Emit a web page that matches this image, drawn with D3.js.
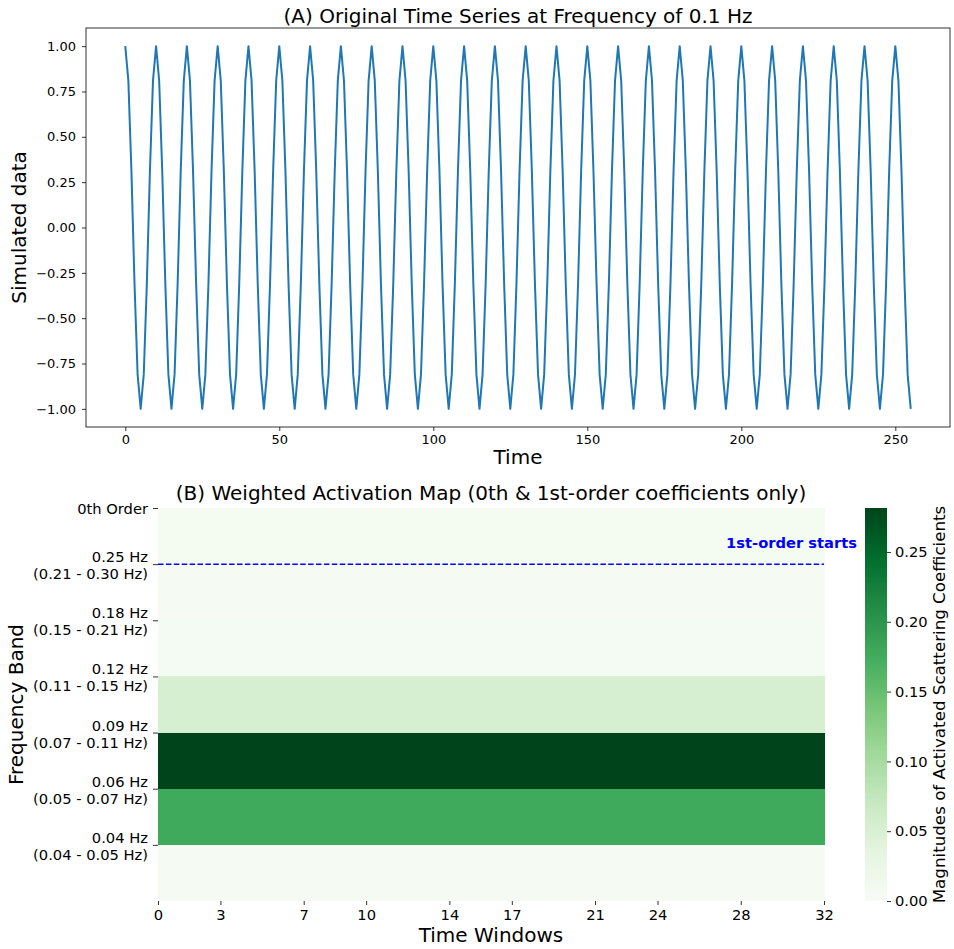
<!DOCTYPE html>
<html>
<head>
<meta charset="utf-8">
<script src="https://cdn.jsdelivr.net/npm/d3@7"></script>
<style>
  body { margin: 0; background: #fff; }
  text { font-family: "DejaVu Sans", sans-serif; fill: #000; }
</style>
</head>
<body>
<svg id="chart"></svg>
<script>
// (A) simulated signal, one value per time step (0..255)
var signal = [
  1.00, 0.81, 0.31, -0.31, -0.81, -1.00, -0.81, -0.31, 0.31, 0.81,
  1.00, 0.81, 0.31, -0.31, -0.81, -1.00, -0.81, -0.31, 0.31, 0.81,
  1.00, 0.81, 0.31, -0.31, -0.81, -1.00, -0.81, -0.31, 0.31, 0.81,
  1.00, 0.81, 0.31, -0.31, -0.81, -1.00, -0.81, -0.31, 0.31, 0.81,
  1.00, 0.81, 0.31, -0.31, -0.81, -1.00, -0.81, -0.31, 0.31, 0.81,
  1.00, 0.81, 0.31, -0.31, -0.81, -1.00, -0.81, -0.31, 0.31, 0.81,
  1.00, 0.81, 0.31, -0.31, -0.81, -1.00, -0.81, -0.31, 0.31, 0.81,
  1.00, 0.81, 0.31, -0.31, -0.81, -1.00, -0.81, -0.31, 0.31, 0.81,
  1.00, 0.81, 0.31, -0.31, -0.81, -1.00, -0.81, -0.31, 0.31, 0.81,
  1.00, 0.81, 0.31, -0.31, -0.81, -1.00, -0.81, -0.31, 0.31, 0.81,
  1.00, 0.81, 0.31, -0.31, -0.81, -1.00, -0.81, -0.31, 0.31, 0.81,
  1.00, 0.81, 0.31, -0.31, -0.81, -1.00, -0.81, -0.31, 0.31, 0.81,
  1.00, 0.81, 0.31, -0.31, -0.81, -1.00, -0.81, -0.31, 0.31, 0.81,
  1.00, 0.81, 0.31, -0.31, -0.81, -1.00, -0.81, -0.31, 0.31, 0.81,
  1.00, 0.81, 0.31, -0.31, -0.81, -1.00, -0.81, -0.31, 0.31, 0.81,
  1.00, 0.81, 0.31, -0.31, -0.81, -1.00, -0.81, -0.31, 0.31, 0.81,
  1.00, 0.81, 0.31, -0.31, -0.81, -1.00, -0.81, -0.31, 0.31, 0.81,
  1.00, 0.81, 0.31, -0.31, -0.81, -1.00, -0.81, -0.31, 0.31, 0.81,
  1.00, 0.81, 0.31, -0.31, -0.81, -1.00, -0.81, -0.31, 0.31, 0.81,
  1.00, 0.81, 0.31, -0.31, -0.81, -1.00, -0.81, -0.31, 0.31, 0.81,
  1.00, 0.81, 0.31, -0.31, -0.81, -1.00, -0.81, -0.31, 0.31, 0.81,
  1.00, 0.81, 0.31, -0.31, -0.81, -1.00, -0.81, -0.31, 0.31, 0.81,
  1.00, 0.81, 0.31, -0.31, -0.81, -1.00, -0.81, -0.31, 0.31, 0.81,
  1.00, 0.81, 0.31, -0.31, -0.81, -1.00, -0.81, -0.31, 0.31, 0.81,
  1.00, 0.81, 0.31, -0.31, -0.81, -1.00, -0.81, -0.31, 0.31, 0.81,
  1.00, 0.81, 0.31, -0.31, -0.81, -1.00
];
var timeTicks = [0, 50, 100, 150, 200, 250];
var signalTicks = [1.00, 0.75, 0.50, 0.25, 0.00, -0.25, -0.50, -0.75, -1.00];

// (B) heatmap rows (top to bottom) and their magnitude
var bandNames = ["0th Order", "0.25 Hz", "0.18 Hz", "0.12 Hz", "0.09 Hz", "0.06 Hz", "0.04 Hz"];
var bandRanges = ["", "(0.21 - 0.30 Hz)", "(0.15 - 0.21 Hz)", "(0.11 - 0.15 Hz)", "(0.07 - 0.11 Hz)", "(0.05 - 0.07 Hz)", "(0.04 - 0.05 Hz)"];
var bandValues = [0.006, 0.004, 0.005, 0.052, 0.2815, 0.178, 0.003];
var windowCount = 32;
var windowTicks = [0, 3, 7, 10, 14, 17, 21, 24, 28, 32];
var colorbarTicks = [0.00, 0.05, 0.10, 0.15, 0.20, 0.25];
var greens = ["#f7fcf5", "#e5f5e0", "#c7e9c0", "#a1d99b", "#74c476", "#41ab5d", "#238b45", "#006d2c", "#00441b"];

var W = 954, H = 949;
var svg = d3.select("#chart").attr("width", W).attr("height", H);

// ---------- top panel ----------
var pA = {left: 86, right: 950, top: 28, bottom: 427};

var x = d3.scaleLinear().domain([-12.75, 267.75]).range([pA.left, pA.right]);
var y = d3.scaleLinear().domain([-1.1, 1.1]).range([pA.bottom, pA.top]);

var gA = svg.append("g");

gA.append("path")
  .datum(signal)
  .attr("fill", "none")
  .attr("stroke", "#1f77b4")
  .attr("stroke-width", 2)
  .attr("stroke-linejoin", "round")
  .attr("d", d3.line().x((d, i) => x(i)).y(d => y(d)));

gA.append("rect")
  .attr("x", pA.left).attr("y", pA.top)
  .attr("width", pA.right - pA.left).attr("height", pA.bottom - pA.top)
  .attr("fill", "none").attr("stroke", "#000").attr("stroke-width", 0.8);

var axA = gA.append("g")
  .attr("transform", "translate(0," + pA.bottom + ")")
  .call(d3.axisBottom(x).tickValues(timeTicks).tickSize(4).tickPadding(4));
var ayA = gA.append("g")
  .attr("transform", "translate(" + pA.left + ",0)")
  .call(d3.axisLeft(y).tickValues(signalTicks).tickSize(4).tickPadding(6)
    .tickFormat(d => d3.format(".2f")(d).replace("-", "\u2212")));
[axA, ayA].forEach(a => {
  a.select(".domain").remove();
  a.selectAll("text").style("font-size", "13px");
  a.selectAll("line").attr("stroke-width", 0.8);
});

gA.append("text")
  .attr("x", (pA.left + pA.right) / 2).attr("y", 23)
  .attr("text-anchor", "middle").style("font-size", "20px")
  .text("(A) Original Time Series at Frequency of 0.1 Hz");

gA.append("text")
  .attr("x", (pA.left + pA.right) / 2).attr("y", 464)
  .attr("text-anchor", "middle").style("font-size", "20px")
  .text("Time");

gA.append("text")
  .attr("transform", "translate(26," + ((pA.top + pA.bottom) / 2) + ") rotate(-90)")
  .attr("text-anchor", "middle").style("font-size", "20px")
  .text("Simulated data");

// ---------- bottom panel ----------
var hm = {left: 158, right: 824, top: 508, bottom: 901};

var xw = d3.scaleLinear().domain([0, windowCount]).range([hm.left, hm.right]);
var yb = d3.scaleLinear().domain([0, bandNames.length]).range([hm.top, hm.bottom]);
var vmax = d3.max(bandValues);
var color = d3.scaleLinear()
  .domain(greens.map((c, i) => vmax * i / (greens.length - 1)))
  .range(greens)
  .interpolate(d3.interpolateRgb);

var cells = [];
bandValues.forEach((v, r) => {
  for (var c = 0; c < windowCount; c++) cells.push({row: r, col: c, value: v});
});

var gB = svg.append("g");

gB.selectAll("rect.cell")
  .data(cells)
  .enter()
  .append("rect")
    .attr("class", "cell")
    .attr("x", d => xw(d.col))
    .attr("y", d => yb(d.row))
    .attr("width", d => xw(d.col + 1) - xw(d.col) + 0.5)
    .attr("height", d => yb(d.row + 1) - yb(d.row) + (d.row < bandNames.length - 1 ? 0.5 : 0))
    .attr("fill", d => color(d.value))
    .attr("shape-rendering", "crispEdges");

// dashed separator between 0th and 1st order
gB.append("line")
  .attr("x1", hm.left).attr("x2", hm.right)
  .attr("y1", yb(1)).attr("y2", yb(1))
  .attr("stroke", "#0000ff").attr("stroke-width", 1.5)
  .attr("stroke-dasharray", "5.5,2.4");

gB.append("text")
  .attr("x", 857).attr("y", yb(1) - 16)
  .attr("text-anchor", "end")
  .style("font-size", "14.7px").style("font-weight", "bold").style("fill", "#0000ff")
  .text("1st-order starts");

// x axis
var axB = gB.append("g")
  .attr("transform", "translate(0," + hm.bottom + ")")
  .call(d3.axisBottom(xw).tickValues(windowTicks).tickSize(4).tickPadding(5));
axB.select(".domain").remove();
axB.selectAll("text").style("font-size", "14.7px");
axB.selectAll("line").attr("stroke-width", 0.8);

// y axis with two-line labels
var ayB = gB.append("g")
  .attr("transform", "translate(" + hm.left + ",0)")
  .call(d3.axisLeft(yb).tickValues(d3.range(bandNames.length)).tickSize(5).tickPadding(5).tickFormat(""));
ayB.select(".domain").remove();
ayB.selectAll("line").attr("stroke-width", 0.8);
ayB.selectAll(".tick text").each(function(d) {
  var t = d3.select(this).style("font-size", "14.7px").attr("dy", null);
  if (bandRanges[d]) {
    t.append("tspan").attr("x", -10).attr("y", -2.5).text(bandNames[d]);
    t.append("tspan").attr("x", -10).attr("y", 14.5).text(bandRanges[d]);
  } else {
    t.append("tspan").attr("x", -10).attr("y", 5).text(bandNames[d]);
  }
});

gB.append("text")
  .attr("x", (hm.left + hm.right) / 2).attr("y", 500)
  .attr("text-anchor", "middle").style("font-size", "20px")
  .text("(B) Weighted Activation Map (0th & 1st-order coefficients only)");

gB.append("text")
  .attr("x", (hm.left + hm.right) / 2).attr("y", 942)
  .attr("text-anchor", "middle").style("font-size", "20px")
  .text("Time Windows");

gB.append("text")
  .attr("transform", "translate(23," + ((hm.top + hm.bottom) / 2) + ") rotate(-90)")
  .attr("text-anchor", "middle").style("font-size", "20px")
  .text("Frequency Band");

// colorbar
var cb = {left: 865, right: 887};
var yc = d3.scaleLinear().domain([0, vmax]).range([hm.bottom, hm.top]);
var defs = svg.append("defs");
var grad = defs.append("linearGradient")
  .attr("id", "cbgrad")
  .attr("x1", 0).attr("y1", 1).attr("x2", 0).attr("y2", 0);
greens.forEach((c, i) => {
  grad.append("stop").attr("offset", i / (greens.length - 1)).attr("stop-color", c);
});
gB.append("rect")
  .attr("x", cb.left).attr("y", hm.top)
  .attr("width", cb.right - cb.left).attr("height", hm.bottom - hm.top)
  .attr("fill", "url(#cbgrad)");

var acB = gB.append("g")
  .attr("transform", "translate(" + cb.right + ",0)")
  .call(d3.axisRight(yc).tickValues(colorbarTicks).tickFormat(d3.format(".2f")).tickSize(4).tickPadding(4));
acB.select(".domain").remove();
acB.selectAll("text").style("font-size", "14.7px");
acB.selectAll("line").attr("stroke-width", 0.8);

gB.append("text")
  .attr("transform", "translate(945," + ((hm.top + hm.bottom) / 2) + ") rotate(-90)")
  .attr("text-anchor", "middle").style("font-size", "16.7px")
  .text("Magnitudes of Activated Scattering Coefficients");
</script>
</body>
</html>
